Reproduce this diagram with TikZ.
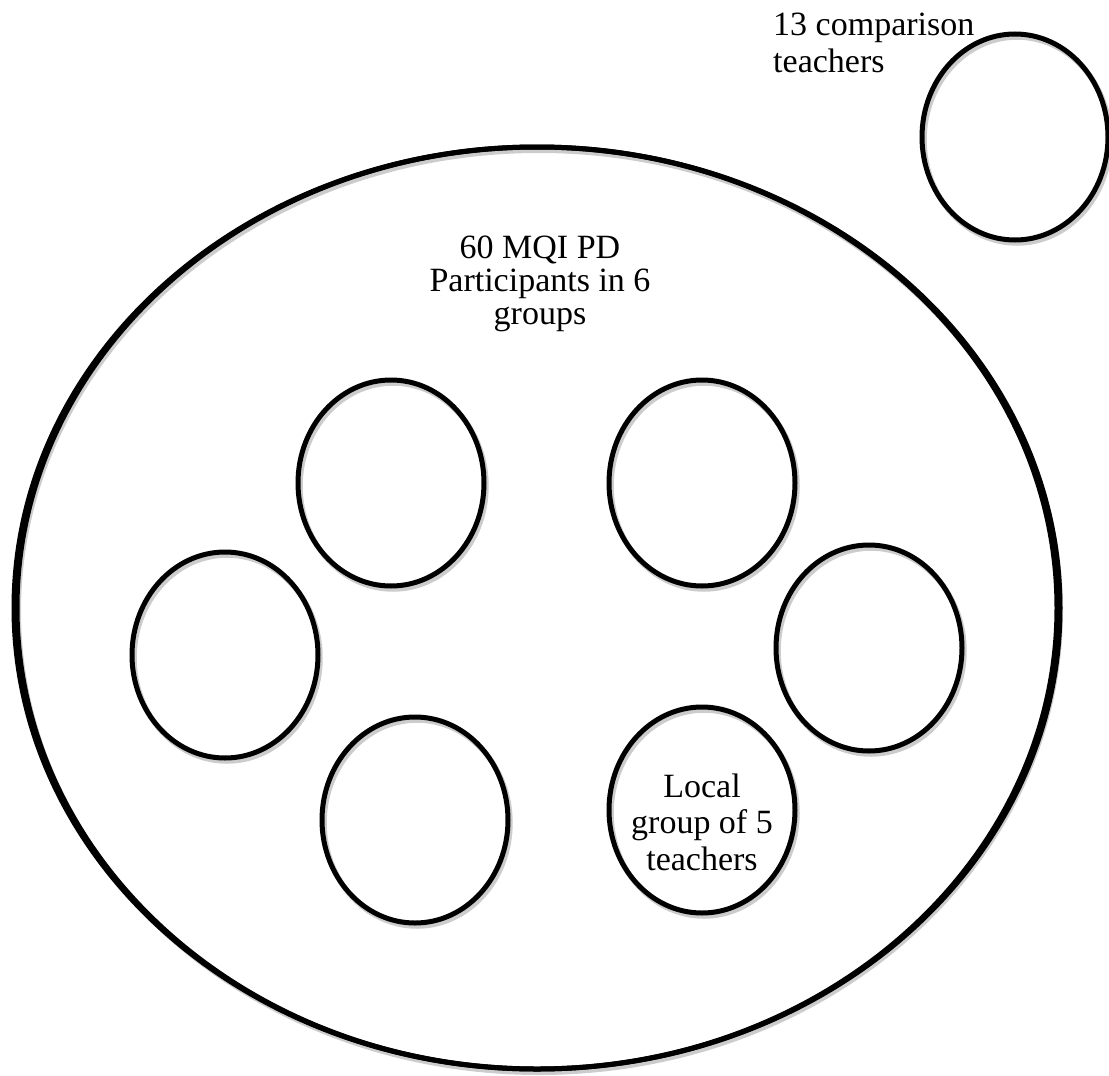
\documentclass[tikz,border=0pt]{standalone}
\usepackage{fontspec}
\setmainfont{Liberation Serif}
\usetikzlibrary{shapes.geometric}
\begin{document}
\begin{tikzpicture}[x=1pt,y=-1pt,
  ring/.style={ellipse,draw=black,line width=5pt,inner sep=0pt,
     minimum width=186pt,minimum height=206pt},
  shade/.style={ellipse,draw=black!20,line width=5.5pt,inner sep=0pt,
     minimum width=186pt,minimum height=206pt},
  lbl/.style={inner sep=0pt,align=center}]
\useasboundingbox (0,0) rectangle (1109,1076);
% shadows
\draw[black!20,line width=6pt] (539,611) ellipse [x radius=521,y radius=461];
\foreach \p in {(1017,140),(393,486),(704,486),(227,658),(871,651),(417,823),(704,813)}
  \node[shade] at \p {};
% main outline (sides slightly heavier than top and bottom)
\draw[line width=5pt] (537,608) ellipse [x radius=523,y radius=461];
\draw[line width=5pt] (537,608) ellipse [x radius=520,y radius=461];
\node[ring] (cmp) at (1015,137) {};
\node[ring] (g1) at (391,483) {};
\node[ring] (g2) at (702,483) {};
\node[ring] (g3) at (225,655) {};
\node[ring] (g4) at (869,648) {};
\node[ring] (g5) at (415,820) {};
\node[ring] (g6) at (702,810) {};
\node[lbl,anchor=base,font=\fontsize{34}{36.5}\selectfont] (t6) at (702,870) {Local\\group of 5\\teachers};
\node[lbl,anchor=base west,align=left,font=\fontsize{34}{37}\selectfont] (tc) at (773,72) {13 comparison\\teachers};
\node[lbl,anchor=base,font=\fontsize{34}{33}\selectfont] (tm) at (540,324) {60 MQI PD\\Participants in 6\\groups};
\end{tikzpicture}
\end{document}
